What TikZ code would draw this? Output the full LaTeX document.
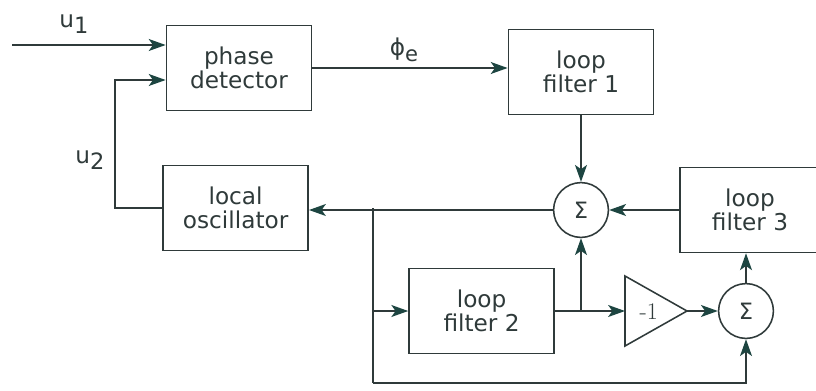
\documentclass[tikz,border=0pt]{standalone}
\usepackage{fontspec}
\setsansfont{DejaVu Sans}
\usetikzlibrary{arrows.meta}
\definecolor{ink}{HTML}{2F3A3A}
\definecolor{tipcol}{HTML}{1D4541}
\newcommand{\blockfont}{\sffamily\fontsize{16.5}{17.5}\selectfont}

\begin{document}
\begin{tikzpicture}[color=ink, line width=1.1pt,
    >={Stealth[length=12pt,width=8.5pt,inset=3pt,color=tipcol]},
    block/.style={draw, font=\blockfont, align=center, minimum width=3.63cm,
      minimum height=2.125cm, inner sep=0pt},
    adder/.style={draw, circle, minimum size=1.37cm, inner sep=0pt,
      font=\sffamily\fontsize{16}{16}\selectfont},
    lbl/.style={font=\blockfont}]
      \useasboundingbox (0,0) rectangle (20.4,-9.75);

      \node[block] (pd) at (5.975,-1.7) {phase\\detector};
      \node[block] (lo) at (5.89,-5.2) {local\\oscillator};
      \node[block] (lf1) at (14.525,-1.8) {loop\\filter 1};
      \node[block] (lf2) at (12.04,-7.775) {loop\\filter 2};
      \node[block, minimum width=3.5cm] (lf3) at (18.75,-5.25) {loop\\filter 3};
      \node[adder] (s1) at (14.525,-5.25) {Σ};
      \node[adder] (s2) at (18.65,-7.775) {Σ};

      % inverting amplifier
      \coordinate (ampin) at (15.625,-7.775);
      \coordinate (ampout) at (17.175,-7.775);
      \draw (ampin) -- ++(0,0.875) -- (ampout) -- (15.625,-8.65) -- cycle;
      \node[font=\fontsize{17}{17}\selectfont] (amp) at (16.22,-7.8) {-1};

      % inputs of the phase detector
      \coordinate (in1) at (0.3,-1.125);
      \coordinate (fb) at (2.875,-2.0);
      \draw[->] (in1) -- (in1 -| pd.west);
      \draw[->] (lo.west) -| (fb) -- (fb -| pd.west);
      \node[lbl] (u1) at (1.85,-0.6) {u\raisebox{-0.5ex}{\fontsize{16}{16}\selectfont 1}};
      \node[lbl] (u2) at (2.25,-4.0) {u\raisebox{-0.5ex}{\fontsize{16}{16}\selectfont 2}};

      \draw[->] (pd.east) -- (pd.east -| lf1.west);
      \node[lbl] (phie) at (10.1,-1.25) {ϕ\raisebox{-0.45ex}{\fontsize{15}{15}\selectfont e}};

      \draw[->] (lf1.south) -- (s1.north);
      \draw[->] (lf3.west |- s1) -- (s1.east);
      \draw[->] (s1.west) -- (s1 -| lo.east);

      % branch to the lower path
      \coordinate (br) at (9.325,-5.2);
      \coordinate (bot) at (9.325,-9.575);
      \draw (br) -- (bot);
      \draw[->] (bot) -| (s2.south);
      \draw[->] (br |- lf2) -- (lf2.west);
      \draw[->] (lf2.east) -- (ampin);
      \draw[->] (s1 |- lf2) -- (s1.south);
      \draw[->] (ampout) -- (s2.west);
      \draw[->] (s2.north) -- (s2 |- lf3.south);
\end{tikzpicture}
\end{document}
